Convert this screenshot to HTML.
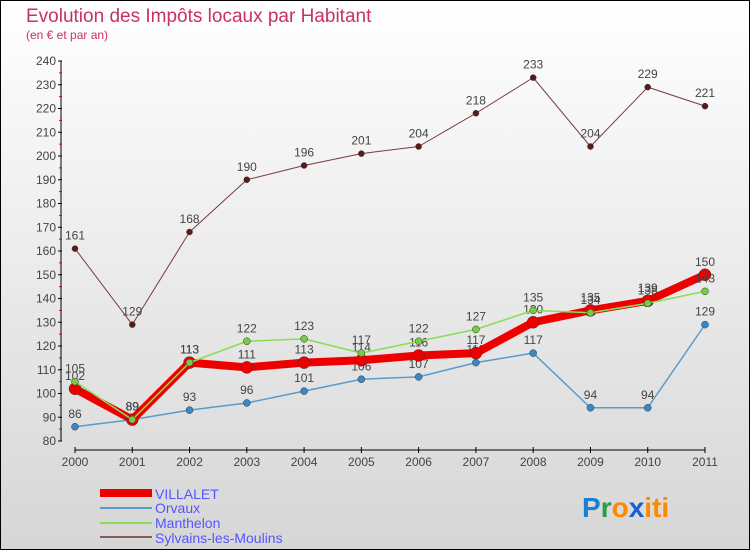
<!DOCTYPE html>
<html><head><meta charset="utf-8"><style>
html,body{margin:0;padding:0}
body{width:750px;height:550px;overflow:hidden;font-family:"Liberation Sans",sans-serif}
#wrap{position:absolute;left:0;top:0;width:748px;height:548px;border:1px solid #000;background:linear-gradient(#ffffff,#d6d6d6)}
</style></head><body>
<div id="wrap">
<svg id="chart" width="750" height="550" style="position:absolute;left:-1px;top:-1px">
<text x="26" y="22" font-size="19" fill="#c8325f">Evolution des Impôts locaux par Habitant</text>
<text x="26" y="39" font-size="12" fill="#c8325f">(en € et par an)</text>
<g id="axes"></g><g id="series"></g>
<g>
<rect x="100" y="489" width="52" height="8" fill="#ee0000"/>
<text x="155" y="499" font-size="14" fill="#5555ff">VILLALET</text>
<rect x="100" y="507" width="52" height="2" fill="#5b9bc8"/>
<text x="155" y="513" font-size="14" fill="#5555ff">Orvaux</text>
<rect x="100" y="522" width="52" height="2" fill="#88dd55"/>
<text x="155" y="528" font-size="14" fill="#5555ff">Manthelon</text>
<rect x="100" y="536" width="52" height="2" fill="#8a5a5a"/>
<text x="155" y="543" font-size="14" fill="#5555ff">Sylvains-les-Moulins</text>
</g>
<text x="582" y="517" font-size="28" font-weight="bold"><tspan fill="#1a7fd0">P</tspan><tspan fill="#28a040">r</tspan><tspan fill="#ff8800">o</tspan><tspan fill="#1a5fd0">x</tspan><tspan fill="#ff8800">iti</tspan></text>
</svg></div>
<script>
const years=[2000,2001,2002,2003,2004,2005,2006,2007,2008,2009,2010,2011];
const villalet=[102,89,113,111,113,114,116,117,130,135,139,150];
const orvaux=[86,89,93,96,101,106,107,113,117,94,94,129];
const manthelon=[105,89,113,122,123,117,122,127,135,134,138,143];
const sylvains=[161,129,168,190,196,201,204,218,233,204,229,221];
const yTicks=[80,90,100,110,120,130,140,150,160,170,180,190,200,210,220,230,240];
const NS="http://www.w3.org/2000/svg";
const X=i=>75+i*(630/(years.length-1));
const Y=v=>441-(v-80)*(380/160);
function mk(tag,attrs,parent){const e=document.createElementNS(NS,tag);for(const k in attrs)e.setAttribute(k,attrs[k]);parent.appendChild(e);return e;}
const ax=document.getElementById('axes');
let l=mk('line',{x1:61,y1:Y(240),x2:61,y2:Y(80),stroke:'#000','stroke-width':1},ax);


yTicks.forEach((v,k)=>{
 let t=mk('line',{x1:58,x2:62,y1:Y(v),y2:Y(v),stroke:'#000'},ax);
 
 
 if(k<yTicks.length-1){
  let r=mk('line',{x1:59,x2:62,y1:Y(v+5),y2:Y(v+5),stroke:'#d00'},ax);
  
  
 }
 let tx=mk('text',{x:56,y:Y(v)+4,'text-anchor':'end','font-size':12,fill:'#444'},ax);
 tx.textContent=v;
 
 
});
let xa=mk('line',{x1:75,x2:705,y1:450,y2:450,stroke:'#000','stroke-width':1},ax);


years.forEach((y,i)=>{
 let t=mk('line',{x1:X(i),x2:X(i),y1:447,y2:453,stroke:'#000'},ax);
 
 
 let tx=mk('text',{x:X(i),y:466,'text-anchor':'middle','font-size':12,fill:'#444'},ax);
 tx.textContent=y;
 
 
});
const sg=document.getElementById('series');
function series(name,vals,color,w,r,dot){
 const g=mk('g',{},sg);
 
 
 const p=mk('polyline',{points:vals.map((v,i)=>X(i)+','+Y(v)).join(' '),fill:'none',stroke:color,'stroke-width':w,'stroke-linejoin':'round'},g);
 
 
 vals.forEach((v,i)=>{
  const c=mk('circle',{cx:X(i),cy:Y(v),r:r,fill:dot,stroke:'#333','stroke-width':0.5},g);
  
  
  const t=mk('text',{x:X(i),y:Y(v)-9,'text-anchor':'middle','font-size':12,fill:'#444'},g);
  t.textContent=v;
  
  
 });
}
series('sylvains',sylvains,'#7a3a3a',1,3,'#5a1a1a');
series('orvaux',orvaux,'#5b9bc8',1.5,3.5,'#3a88c8');
series('villalet',villalet,'#ee0000',8,6,'#ee0000');
series('manthelon',manthelon,'#88dd55',1.5,3.5,'#77cc44');
</script>
</body></html>
